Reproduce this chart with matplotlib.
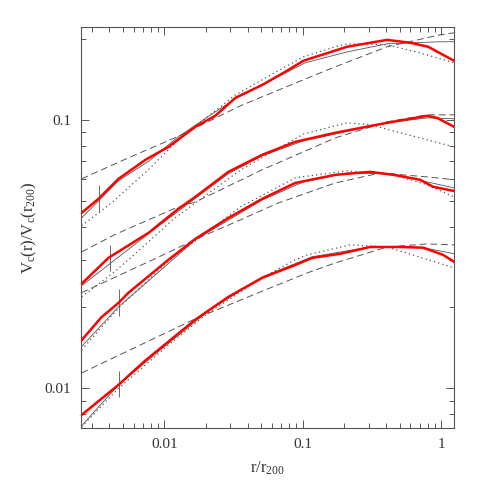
import matplotlib
matplotlib.use("Agg")
import matplotlib.pyplot as plt
from matplotlib import ticker

plt.rcParams["font.family"] = ["Liberation Serif", "DejaVu Serif"]
plt.rcParams["mathtext.fontset"] = "custom"
plt.rcParams["mathtext.rm"] = "Liberation Serif"
plt.rcParams["mathtext.it"] = "Liberation Serif:italic"

# --- halo 1 (top) ---
sim1_x = [0.00252, 0.00334, 0.00466, 0.0073, 0.0107, 0.0167, 0.0233, 0.0326, 0.051, 0.0748, 0.101, 0.209, 0.407, 0.598, 0.805, 1.24]
sim1_y = [0.0450, 0.0508, 0.0603, 0.0710, 0.0793, 0.0942, 0.1035, 0.1208, 0.1350, 0.1511, 0.1660, 0.1872, 0.1986, 0.1937, 0.1872, 0.1660]
fit1_x = [0.00252, 0.00466, 0.00766, 0.0126, 0.0208, 0.0326, 0.104, 0.172, 0.209, 0.407, 0.984, 1.24]
fit1_y = [0.0431, 0.0593, 0.0700, 0.0865, 0.1030, 0.1200, 0.1631, 0.1745, 0.1791, 0.1920, 0.1954, 0.1954]
nfw1_x = [0.00252, 0.00414, 0.00766, 0.0126, 0.0326, 0.0748, 0.101, 0.172, 0.209, 0.407, 0.70, 1.24]
nfw1_y = [0.0403, 0.0490, 0.0652, 0.0842, 0.1239, 0.1577, 0.1717, 0.1872, 0.1920, 0.1905, 0.1777, 0.1631]
alt1_x = [0.00252, 0.0055, 0.0124, 0.0354, 0.101, 0.172, 0.407, 0.984, 1.24]
alt1_y = [0.0603, 0.0722, 0.0865, 0.1128, 0.1410, 0.1577, 0.1872, 0.2075, 0.211]

# --- halo 2 ---
sim2_x = [0.00252, 0.00394, 0.00766, 0.0126, 0.0167, 0.029, 0.051, 0.0883, 0.172, 0.407, 0.792, 0.936, 1.24]
sim2_y = [0.0245, 0.0306, 0.0379, 0.0466, 0.0516, 0.0640, 0.0741, 0.0828, 0.0895, 0.0975, 0.1035, 0.1017, 0.0942]
fit2_x = [0.00252, 0.00766, 0.0167, 0.029, 0.051, 0.101, 0.209, 0.407, 0.792, 1.24]
fit2_y = [0.0241, 0.0376, 0.0510, 0.0630, 0.0735, 0.0835, 0.0905, 0.0975, 0.1017, 0.1009]
nfw2_x = [0.00252, 0.0043, 0.0065, 0.0115, 0.0354, 0.101, 0.209, 0.31, 0.506, 1.24]
nfw2_y = [0.0219, 0.0270, 0.0325, 0.0425, 0.0650, 0.0885, 0.0975, 0.0958, 0.0895, 0.0793]
alt2_x = [0.00252, 0.0044, 0.012, 0.0167, 0.051, 0.101, 0.172, 0.407, 0.792, 1.24]
alt2_y = [0.0322, 0.0374, 0.0469, 0.0494, 0.0652, 0.0760, 0.0857, 0.0983, 0.1044, 0.1044]

# --- halo 3 ---
sim3_x = [0.00252, 0.00351, 0.00466, 0.0055, 0.0107, 0.0167, 0.029, 0.051, 0.0883, 0.172, 0.307, 0.45, 0.705, 0.875, 1.24]
sim3_y = [0.0151, 0.0184, 0.0208, 0.0227, 0.0301, 0.0360, 0.0431, 0.0508, 0.0582, 0.0624, 0.0640, 0.0624, 0.0598, 0.0563, 0.0543]
fit3_x = [0.00252, 0.00466, 0.0078, 0.0167, 0.051, 0.101, 0.209, 0.45, 0.792, 1.24]
fit3_y = [0.0143, 0.0201, 0.0253, 0.0357, 0.0503, 0.0587, 0.0634, 0.0629, 0.0587, 0.0558]
nfw3_x = [0.00252, 0.00466, 0.0107, 0.0354, 0.0883, 0.209, 0.45, 0.792, 1.24]
nfw3_y = [0.0139, 0.0199, 0.0298, 0.0474, 0.0608, 0.0646, 0.0624, 0.0573, 0.0516]
alt3_x = [0.00252, 0.0079, 0.0181, 0.0354, 0.0665, 0.172, 0.363, 0.792, 1.24]
alt3_y = [0.0227, 0.0298, 0.0365, 0.0424, 0.0490, 0.0582, 0.0634, 0.0613, 0.0598]

# --- halo 4 (bottom) ---
sim4_x = [0.00252, 0.00466, 0.0073, 0.0167, 0.029, 0.051, 0.0883, 0.117, 0.187, 0.307, 0.506, 0.741, 1.033, 1.24]
sim4_y = [0.00795, 0.0103, 0.0127, 0.0180, 0.0219, 0.0258, 0.0288, 0.0306, 0.0317, 0.0336, 0.0336, 0.0334, 0.0314, 0.0296]
fit4_x = [0.00252, 0.00466, 0.00936, 0.0208, 0.051, 0.117, 0.307, 0.741, 1.24]
fit4_y = [0.00724, 0.0103, 0.0139, 0.0194, 0.0260, 0.0309, 0.0336, 0.0334, 0.0317]
nfw4_x = [0.00252, 0.00466, 0.0107, 0.0208, 0.051, 0.0883, 0.1078, 0.22, 0.407, 1.24]
nfw4_y = [0.00718, 0.0100, 0.0145, 0.0191, 0.0258, 0.0301, 0.0314, 0.0342, 0.0336, 0.0281]
alt4_x = [0.00252, 0.0173, 0.051, 0.1078, 0.172, 0.407, 0.792, 1.24]
alt4_y = [0.0114, 0.0183, 0.0230, 0.0269, 0.0293, 0.0336, 0.0345, 0.0342]

# resolution markers (x, y_low, y_high)
res_x = [0.00338, 0.00407, 0.00466, 0.00466]
res_lo = [0.0454, 0.0274, 0.0186, 0.0093]
res_hi = [0.0573, 0.0342, 0.0234, 0.0116]

halos = [
    (sim1_x, sim1_y, fit1_x, fit1_y, nfw1_x, nfw1_y, alt1_x, alt1_y),
    (sim2_x, sim2_y, fit2_x, fit2_y, nfw2_x, nfw2_y, alt2_x, alt2_y),
    (sim3_x, sim3_y, fit3_x, fit3_y, nfw3_x, nfw3_y, alt3_x, alt3_y),
    (sim4_x, sim4_y, fit4_x, fit4_y, nfw4_x, nfw4_y, alt4_x, alt4_y),
]

fig = plt.figure(figsize=(4.8, 4.8), dpi=100)
ax = fig.add_axes([0.169, 0.108, 0.777, 0.836])
grey = "#555555"

for sx, sy, fx, fy, nx, ny, ax_x, ax_y in halos:
    ax.plot(ax_x, ax_y, color=grey, lw=0.7, dashes=(7, 4))
    ax.plot(nx, ny, color=grey, lw=0.9, ls=(0, (1, 2.5)))
    ax.plot(fx, fy, color=grey, lw=0.6)
    ax.plot(sx, sy, color="red", lw=1.8, zorder=5)

ax.vlines(res_x, res_lo, res_hi, color=grey, lw=0.6)

ax.set_xscale("log")
ax.set_yscale("log")
ax.set_xlim(0.0025, 1.24)
ax.set_ylim(0.0071, 0.222)

ax.xaxis.set_major_locator(ticker.FixedLocator([0.01, 0.1, 1]))
ax.xaxis.set_major_formatter(ticker.FixedFormatter(["0.01", "0.1", "1"]))
ax.yaxis.set_major_locator(ticker.FixedLocator([0.01, 0.1]))
ax.yaxis.set_major_formatter(ticker.FixedFormatter(["0.01", "0.1"]))
for axis in (ax.xaxis, ax.yaxis):
    axis.set_minor_locator(ticker.LogLocator(base=10, subs=range(2, 10), numticks=20))
    axis.set_minor_formatter(ticker.NullFormatter())

ax.tick_params(which="both", direction="in", top=True, right=True, color=grey,
               labelcolor="#333333", labelsize=11, width=0.7)
ax.tick_params(which="major", length=6, pad=7)
ax.tick_params(which="minor", length=3.5)
for sp in ax.spines.values():
    sp.set_color(grey)
    sp.set_linewidth(0.8)

ax.set_xlabel(r"$\mathrm{r/r_{200}}$", fontsize=12, color="#333333", labelpad=6)
ax.set_ylabel(r"$\mathrm{V_c(r)/V_c(r_{200})}$", fontsize=12, color="#333333", labelpad=4)

fig.savefig("out.png", dpi=100)
